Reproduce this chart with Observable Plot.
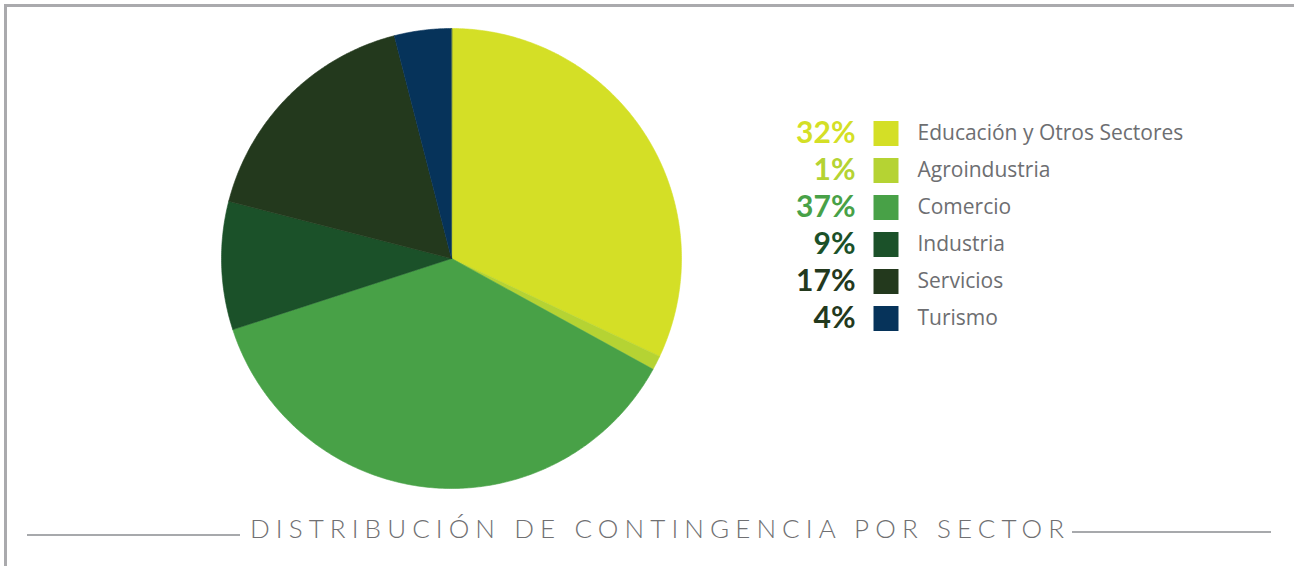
<!DOCTYPE html>
<html>
<head>
<meta charset="utf-8">
<script src="https://cdn.jsdelivr.net/npm/d3@7"></script>
<script src="https://cdn.jsdelivr.net/npm/@observablehq/plot@0.6"></script>
<style>
  html, body { margin: 0; padding: 0; background: #fff; }
  #wrap { position: relative; width: 1294px; height: 566px; overflow: hidden; font-family: Lato, "Open Sans", sans-serif; }
  #frameTop { position: absolute; left: 4px; top: 4px; width: 1290px; height: 2.5px; background: #aaaaad; }
  #frameLeft { position: absolute; left: 4px; top: 4px; width: 2.5px; height: 562px; background: #aaaaad; }
  #pie { position: absolute; left: 220px; top: 27px; }
  #legend { position: absolute; left: 780px; top: 112px; }
  #title { position: absolute; left: 13px; top: 512px; width: 1294px; text-align: center; }
  #title span { font-size: 26px; font-weight: 300; letter-spacing: 6.1px; color: #707072; }
  .rule { position: absolute; height: 2px; background: #a7a9ac; }
</style>
</head>
<body>
<div id="wrap">
  <div id="frameTop"></div>
  <div id="frameLeft"></div>
  <div id="pie"></div>
  <div id="legend"></div>
  <div class="rule" style="left:27px; top:534px; width:213px;"></div>
  <div class="rule" style="left:1072px; top:531px; width:199px;"></div>
  <div id="title"><span>DISTRIBUCIÓN DE CONTINGENCIA POR SECTOR</span></div>
</div>
<script>
// ---- data ----
const sectors = ["Educación y Otros Sectores", "Agroindustria", "Comercio", "Industria", "Servicios", "Turismo"];
const shares = [32, 1, 37, 9, 17, 4];
const colors = ["#d4df26", "#b5d333", "#48a147", "#1b5129", "#23391d", "#06335a"];
const labelColors = ["#d4df26", "#b5d333", "#48a147", "#1b5129", "#23391d", "#23391d"];

const rows = sectors.map((s, i) => ({sector: s, share: shares[i], label: shares[i] + "%", lc: labelColors[i]}));

// ---- pie geometry from the values (angles clockwise from 12 o'clock) ----
const arcs = d3.pie().sort(null).value(d => d.share)(rows);
const piePts = [];
for (const a of arcs) {
  const s = a.data.sector;
  piePts.push({sector: s, x: 0, y: 0});
  const n = Math.max(2, Math.ceil((a.endAngle - a.startAngle) / (Math.PI / 360)));
  for (let k = 0; k <= n; k++) {
    const t = a.startAngle + (a.endAngle - a.startAngle) * k / n;
    piePts.push({sector: s, x: Math.sin(t), y: Math.cos(t)});
  }
}

const colorScale = {domain: sectors, range: colors};

const pie = Plot.plot({
  width: 462, height: 462,
  margin: 0,
  x: {domain: [-1, 1], range: [1, 461], axis: null},
  y: {domain: [-1, 1], range: [461, 1], axis: null},
  color: colorScale,
  marks: [
    Plot.line(piePts, {x: "x", y: "y", z: "sector", fill: "sector", stroke: "sector", strokeWidth: 0.6, curve: "linear-closed"})
  ]
});
document.getElementById("pie").appendChild(pie);

// ---- legend ----
const legend = Plot.plot({
  width: 440, height: 228,
  margin: 0,
  y: {type: "point", domain: sectors, range: [19, 208], padding: 0, axis: null},
  color: colorScale,
  style: {fontFamily: "Lato, 'Open Sans', sans-serif", background: "transparent"},
  marks: [
    Plot.text(rows, {y: "sector", text: "label", fill: "lc", frameAnchor: "left", dx: 75, textAnchor: "end", fontSize: 30, fontWeight: 700}),
    Plot.dot(rows, {y: "sector", frameAnchor: "left", dx: 105.5, symbol: "square", r: 14.1, fill: "sector", stroke: null}),
    Plot.text(rows, {y: "sector", text: "sector", frameAnchor: "left", dx: 137, textAnchor: "start", fontSize: 21, fontFamily: "'Open Sans', sans-serif", fill: "#6d6e71"})
  ]
});
document.getElementById("legend").appendChild(legend);
</script>
</body>
</html>
